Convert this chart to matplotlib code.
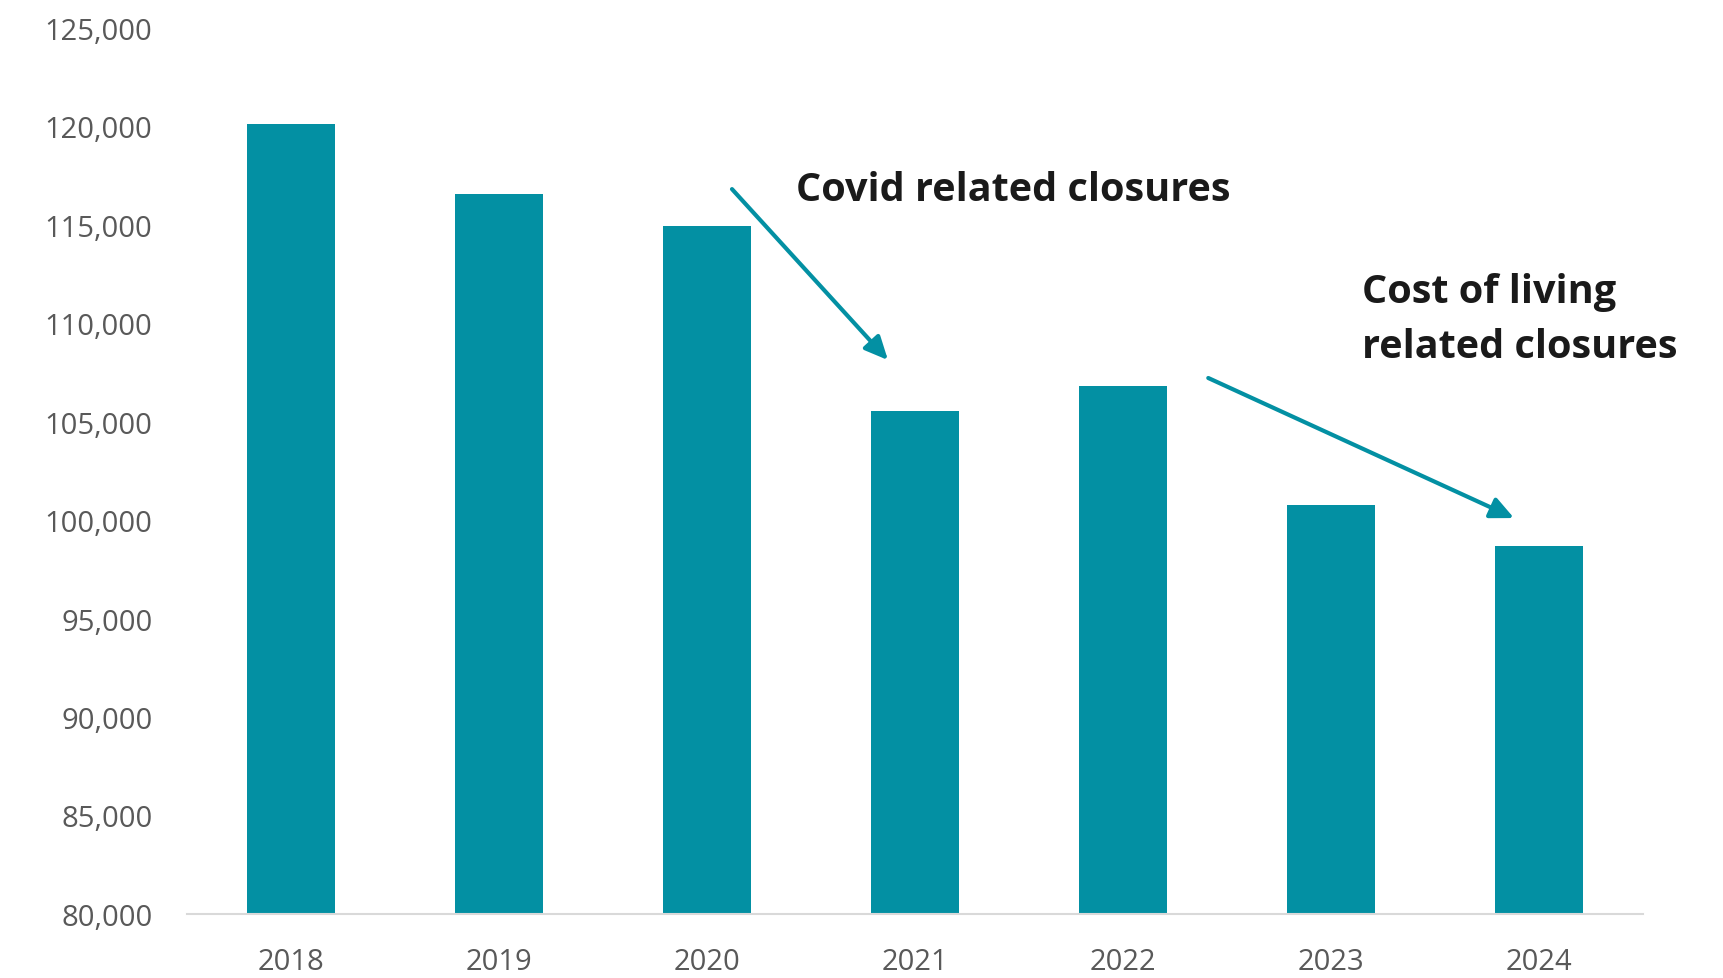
import matplotlib.pyplot as plt
from matplotlib.ticker import FuncFormatter

# closures data
years = ['2018', '2019', '2020', '2021', '2022', '2023', '2024']
counts = [120100, 116570, 114950, 105520, 106800, 100770, 98660]
y_ticks = [80000, 85000, 90000, 95000, 100000, 105000, 110000, 115000, 120000, 125000]

teal = '#0390a3'

plt.rcParams['font.family'] = ['Open Sans', 'DejaVu Sans']

fig = plt.figure(figsize=(17.24, 9.79), dpi=100)
ax = fig.add_axes([0.1085, 0.0654, 0.8445, 0.9054])

x = range(len(years))
ax.bar(x, counts, width=0.42, color=teal, zorder=2)

ax.set_xlim(-0.5, len(years) - 0.5)
ax.set_ylim(80000, 125000)
ax.set_xticks(list(x))
ax.set_xticklabels(years)
ax.set_yticks(y_ticks)
ax.yaxis.set_major_formatter(FuncFormatter(lambda v, p: '{:,.0f}'.format(v)))

for s in ['top', 'right', 'left']:
    ax.spines[s].set_visible(False)
ax.spines['bottom'].set_color('#d9d9d9')
ax.spines['bottom'].set_linewidth(1.5)
ax.tick_params(axis='both', length=0, labelsize=21, labelcolor='#595959')
ax.tick_params(axis='y', pad=25)
ax.tick_params(axis='x', pad=24)

arrow = dict(arrowstyle='-|>,head_length=1.4,head_width=0.65', color=teal, lw=3,
             shrinkA=0, shrinkB=0)

ax.annotate('', xy=(2.87, 108120), xytext=(2.12, 116800), arrowprops=arrow)
ax.annotate('', xy=(5.88, 100100), xytext=(4.41, 107210), arrowprops=arrow)

ax.text(2.43, 116800, 'Covid related closures', fontsize=28.5, fontweight='bold',
        color='#1a1a1a', va='center', ha='left')
ax.text(5.15, 110200, 'Cost of living\nrelated closures', fontsize=28.5, fontweight='bold',
        color='#1a1a1a', va='center', ha='left', linespacing=1.55)

fig.savefig('out.png', dpi=100)
